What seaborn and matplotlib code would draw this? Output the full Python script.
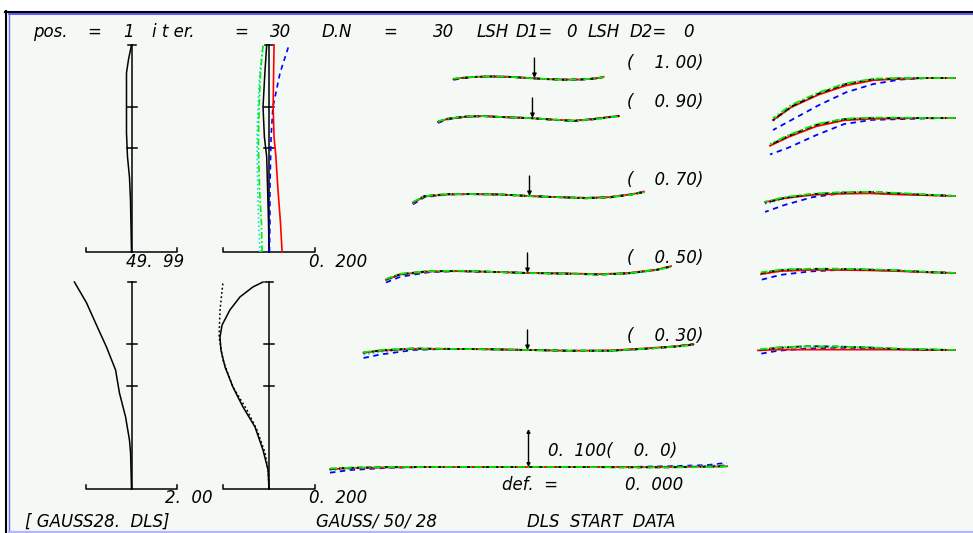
import matplotlib
matplotlib.use("Agg")
import matplotlib.pyplot as plt
from matplotlib.lines import Line2D
from matplotlib.patches import Rectangle
import seaborn as sns

W, H = 973, 533

# ---------------- data ----------------
# left column, relative height (0 = bar, 1 = top cap)
sa_h = [0.0, 0.25, 0.36, 0.46, 0.575, 0.865, 0.93, 1.0]
sa_black = [0.0, -1.1, -2.2, -4.4, -5.5, -5.5, -3.3, 0.0]  # scale 49.99

ch_h = [0.0, 0.14, 0.30, 0.46, 0.555, 0.70, 0.865, 1.0]  # scale 0.200
ch_red = [0.057, 0.050, 0.039, 0.030, 0.022, 0.018, 0.020, 0.022]
ch_blue = [0.002, 0.004, 0.004, 0.007, 0.009, 0.017, 0.048, 0.087]
ch_green = [-0.030, -0.033, -0.041, -0.045, -0.046, -0.043, -0.037, -0.026]
ch_cyan = [-0.039, -0.045, -0.049, -0.051, -0.052, -0.048, -0.040, -0.026]
ch_black = [0.0, -0.002, -0.006, -0.010, -0.020, -0.026, -0.018, -0.010]

dist_h = [0.0, 0.174, 0.237, 0.348, 0.464, 0.575, 0.686, 0.78, 0.90, 1.0]
dist = [0.0, -0.04, -0.09, -0.26, -0.53, -0.70, -1.10, -1.49, -1.98, -2.51]  # scale 2.00

fc_sag_h = [0.0, 0.092, 0.188, 0.30, 0.396, 0.493, 0.589, 0.671, 0.734, 0.792, 0.865, 0.928, 0.976, 1.0]
fc_sag = [0.0, -0.004, -0.026, -0.061, -0.113, -0.157, -0.191, -0.209, -0.213, -0.204, -0.170, -0.126, -0.070, -0.026]
fc_tan_h = [0.0, 0.092, 0.174, 0.285, 0.382, 0.493, 0.623, 0.734, 0.865, 1.0]
fc_tan = [0.0, -0.004, -0.017, -0.052, -0.096, -0.157, -0.200, -0.217, -0.213, -0.200]

# ray fans
field_labels = ["(    1. 00)", "(    0. 90)", "(    0. 70)", "(    0. 50)", "(    0. 30)"]
pupil = [-1.0, -0.9, -0.7, -0.5, -0.25, 0.0, 0.25, 0.5, 0.7, 0.9, 1.0]
tan_extent = [0.378, 0.456, 0.582, 0.718, 0.831, 1.0]
chief_x = [0.030, 0.020, 0.005, -0.005, -0.005, 0.0]

tan_red = [
    [-0.003, 0.000, 0.003, 0.004, 0.003, 0.0, -0.003, -0.004, -0.004, -0.001, 0.003],
    [-0.010, -0.003, 0.003, 0.005, 0.002, 0.0, -0.004, -0.007, -0.003, 0.003, 0.005],
    [-0.018, -0.001, 0.004, 0.005, 0.004, 0.0, -0.003, -0.005, -0.003, 0.005, 0.011],
    [-0.018, -0.004, 0.004, 0.005, 0.003, 0.0, -0.001, -0.003, 0.000, 0.009, 0.018],
    [-0.007, -0.002, 0.003, 0.003, 0.002, 0.0, -0.002, -0.001, 0.004, 0.010, 0.015],
    [-0.006, -0.003, -0.001, 0.000, 0.000, 0.0, 0.000, 0.000, 0.000, 0.001, 0.002],
]
tan_green = [
    [-0.002, 0.001, 0.003, 0.004, 0.003, 0.0, -0.003, -0.005, -0.004, -0.001, 0.002],
    [-0.009, -0.002, 0.004, 0.005, 0.002, 0.0, -0.004, -0.007, -0.004, 0.002, 0.004],
    [-0.016, 0.000, 0.005, 0.005, 0.004, 0.0, -0.003, -0.006, -0.004, 0.004, 0.010],
    [-0.016, -0.002, 0.005, 0.006, 0.003, 0.0, -0.002, -0.004, -0.001, 0.008, 0.016],
    [-0.006, 0.000, 0.004, 0.003, 0.002, 0.0, -0.002, -0.002, 0.003, 0.009, 0.013],
    [-0.004, -0.002, 0.000, 0.000, 0.000, 0.0, 0.000, -0.001, -0.001, 0.000, 0.001],
]
tan_black = [
    [-0.003, 0.000, 0.003, 0.004, 0.003, 0.0, -0.003, -0.005, -0.004, -0.001, 0.002],
    [-0.010, -0.002, 0.004, 0.005, 0.002, 0.0, -0.004, -0.008, -0.004, 0.002, 0.005],
    [-0.017, 0.000, 0.005, 0.005, 0.004, 0.0, -0.003, -0.006, -0.004, 0.004, 0.010],
    [-0.017, -0.003, 0.005, 0.005, 0.003, 0.0, -0.002, -0.004, -0.001, 0.008, 0.017],
    [-0.007, -0.001, 0.004, 0.003, 0.002, 0.0, -0.002, -0.002, 0.003, 0.009, 0.014],
    [-0.005, -0.002, 0.000, 0.000, 0.000, 0.0, 0.000, -0.001, -0.001, 0.001, 0.002],
]
tan_cyan = [
    [-0.004, 0.000, 0.003, 0.004, 0.003, 0.0, -0.003, -0.004, -0.004, -0.001, 0.003],
    [-0.011, -0.003, 0.003, 0.005, 0.002, 0.0, -0.004, -0.007, -0.003, 0.003, 0.005],
    [-0.019, -0.002, 0.004, 0.005, 0.004, 0.0, -0.003, -0.005, -0.003, 0.005, 0.011],
    [-0.020, -0.006, 0.003, 0.005, 0.003, 0.0, -0.001, -0.004, -0.001, 0.008, 0.017],
    [-0.012, -0.005, 0.002, 0.003, 0.002, 0.0, -0.002, -0.002, 0.003, 0.009, 0.015],
    [-0.009, -0.004, -0.001, 0.000, 0.000, 0.0, 0.000, 0.000, 0.001, 0.003, 0.007],
]
tan_blue = [
    [-0.005, -0.001, 0.003, 0.004, 0.003, 0.0, -0.003, -0.004, -0.004, -0.001, 0.003],
    [-0.013, -0.004, 0.003, 0.005, 0.002, 0.0, -0.004, -0.007, -0.003, 0.003, 0.006],
    [-0.022, -0.003, 0.004, 0.005, 0.004, 0.0, -0.003, -0.005, -0.003, 0.005, 0.012],
    [-0.025, -0.010, 0.002, 0.005, 0.003, 0.0, -0.001, -0.004, -0.001, 0.008, 0.018],
    [-0.021, -0.012, 0.000, 0.003, 0.002, 0.0, -0.002, -0.002, 0.003, 0.010, 0.016],
    [-0.015, -0.008, -0.002, 0.000, 0.000, 0.0, 0.000, 0.000, 0.002, 0.005, 0.011],
]

sag_pupil = [0.0, 0.15, 0.3, 0.45, 0.6, 0.75, 0.9, 1.0]
sag_extent = [0.924, 0.939, 0.964, 0.985, 1.0]
sag_black = [
    [0.0, 0.000, -0.001, -0.003, -0.016, -0.041, -0.075, -0.111],
    [0.0, 0.000, 0.000, 0.000, -0.003, -0.018, -0.047, -0.071],
    [0.0, 0.003, 0.007, 0.011, 0.009, 0.005, -0.005, -0.018],
    [0.0, 0.003, 0.007, 0.009, 0.011, 0.011, 0.008, 0.000],
    [0.0, 0.001, 0.003, 0.007, 0.009, 0.010, 0.006, 0.000],
]
sag_green = [
    [0.0, 0.000, 0.000, -0.002, -0.014, -0.038, -0.071, -0.106],
    [0.0, 0.000, 0.001, 0.001, -0.002, -0.016, -0.045, -0.068],
    [0.0, 0.004, 0.008, 0.011, 0.010, 0.006, -0.003, -0.015],
    [0.0, 0.003, 0.007, 0.010, 0.011, 0.011, 0.009, 0.002],
    [0.0, 0.002, 0.004, 0.007, 0.009, 0.010, 0.007, 0.001],
]
sag_red = [
    [0.0, 0.000, -0.002, -0.006, -0.020, -0.044, -0.077, -0.111],
    [0.0, 0.000, -0.001, -0.002, -0.006, -0.022, -0.050, -0.073],
    [0.0, 0.002, 0.004, 0.007, 0.006, 0.003, -0.006, -0.016],
    [0.0, 0.002, 0.005, 0.007, 0.008, 0.008, 0.005, -0.003],
    [0.0, 0.000, 0.001, 0.001, 0.001, 0.001, 0.001, -0.001],
]
sag_cyan = [
    [0.0, 0.000, -0.001, -0.004, -0.017, -0.043, -0.078, -0.114],
    [0.0, 0.000, 0.000, -0.001, -0.005, -0.020, -0.049, -0.074],
    [0.0, 0.003, 0.006, 0.009, 0.008, 0.004, -0.007, -0.021],
    [0.0, 0.002, 0.006, 0.008, 0.010, 0.009, 0.005, -0.004],
    [0.0, 0.001, 0.003, 0.006, 0.008, 0.008, 0.004, -0.002],
]
sag_blue = [
    [0.0, 0.000, -0.004, -0.016, -0.038, -0.072, -0.111, -0.137],
    [0.0, -0.001, -0.003, -0.005, -0.016, -0.045, -0.078, -0.096],
    [0.0, 0.003, 0.005, 0.008, 0.007, -0.003, -0.024, -0.042],
    [0.0, 0.002, 0.006, 0.008, 0.008, 0.004, -0.005, -0.018],
    [0.0, 0.001, 0.002, 0.005, 0.006, 0.004, -0.002, -0.011],
]

# ---------------- styles ----------------
BG = "#f5f9f5"
STY = {
    "blue": dict(color="#0000ff", linestyle=(0, (3, 2.5))),
    "cyan": dict(color="#00e5e5", linestyle=(0, (1, 1.5))),
    "red": dict(color="#ff0000", linestyle="-"),
    "black": dict(color="black", linestyle=(0, (3, 2))),
    "green": dict(color="#00ee00", linestyle=(0, (4, 1.5, 1, 1.5))),
}
TXT = dict(fontsize=12, style="italic", family="DejaVu Sans", color="black")

fig = plt.figure(figsize=(W / 100, H / 100), dpi=100, facecolor="white")


def fx(x):
    return x / W


def fy(y):
    return 1 - y / H


def px_axes(x0, y0, x1, y1):
    ax = fig.add_axes([fx(x0), fy(y1), (x1 - x0) / W, (y1 - y0) / H])
    ax.set_axis_off()
    ax.patch.set_alpha(0)
    return ax


def curve(ax, x, y, key, lw=1.2, z=2):
    sns.lineplot(x=x, y=y, ax=ax, sort=False, estimator=None, lw=lw, zorder=z, **STY[key])


def ptext(x, y, s, **kw):
    fig.text(fx(x), fy(y), s, va=kw.pop("va", "center"), **TXT, **kw)


# background + frame
fig.add_artist(Rectangle((fx(7), 0), 1 - fx(7), fy(12), transform=fig.transFigure, color=BG, zorder=0))


def frame_line(xs, ys, color, lw):
    fig.add_artist(Line2D([fx(v) for v in xs], [fy(v) for v in ys], color=color, lw=lw, zorder=10))


# ---------------- left column ----------------
def scale_axis(ax, s, top, bot):
    k = s / 45.5
    hpx = bot - top
    kw = dict(color="black", lw=1.1)
    ax.plot([0, 0], [0, 1], **kw)
    ax.plot([-4 * k, 4 * k], [1, 1], **kw)
    for t in (0.5, 0.7):
        ax.plot([-5 * k, 5 * k], [t, t], **kw)
    ax.plot([-s, -s, s, s], [4 / hpx, 0, 0, 4 / hpx], **kw)
    ax.set_xlim(-s, s)
    ax.set_ylim(0, 1)


ax1 = px_axes(86, 45, 177, 252)
scale_axis(ax1, 49.99, 45, 252)
curve(ax1, sa_black, sa_h, "red", lw=1.1)
ax1.lines[-1].set_color("black")

ax2 = px_axes(223, 45, 315, 252)
scale_axis(ax2, 0.2, 45, 252)
curve(ax2, ch_cyan, ch_h, "cyan")
curve(ax2, ch_green, ch_h, "green")
curve(ax2, ch_black, ch_h, "red", lw=1.1)
ax2.lines[-1].set_color("black")
curve(ax2, ch_blue, ch_h, "blue")
curve(ax2, ch_red, ch_h, "red")

ax3 = px_axes(86, 282, 177, 489)
scale_axis(ax3, 2.0, 282, 489)
curve(ax3, dist, dist_h, "red", lw=1.1)
ax3.lines[-1].set_color("black")

ax4 = px_axes(223, 282, 315, 489)
scale_axis(ax4, 0.2, 282, 489)
curve(ax4, fc_sag, fc_sag_h, "red", lw=1.1)
ax4.lines[-1].set_color("black")
curve(ax4, fc_tan, fc_tan_h, "cyan", lw=1.1)
ax4.lines[-1].set_color("black")
ax4.lines[-1].set_linestyle((0, (1.2, 1.6)))

for ax in (ax1, ax2, ax3, ax4):
    for ln in ax.lines:
        ln.set_clip_on(False)

ptext(184, 262, "49.  99", ha="right")
ptext(367, 262, "0.  200", ha="right")
ptext(213, 498, "2.  00", ha="right")
ptext(367, 498, "0.  200", ha="right")

# ---------------- ray fans ----------------
row_y = [78, 118, 196, 273, 350, 467]
YR = 45 / 380
for i, yb in enumerate(row_y):
    ax = px_axes(330, yb - 45, 727, yb + 45)
    ax.set_xlim(-1, 1)
    ax.set_ylim(-YR, YR)
    xs = [p * tan_extent[i] for p in pupil]
    for key, arr in (("blue", tan_blue), ("cyan", tan_cyan), ("red", tan_red),
                     ("black", tan_black), ("green", tan_green)):
        curve(ax, xs, arr[i], key, lw=1.3)
    if i < 5:
        ax.annotate("", xy=(chief_x[i], 0), xytext=(chief_x[i], 20 / 380),
                    arrowprops=dict(arrowstyle="-|>", color="black", lw=1.0,
                                    mutation_scale=6, shrinkA=0, shrinkB=0))
    else:
        ax.annotate("", xy=(chief_x[i], 0), xytext=(chief_x[i], 0.1),
                    arrowprops=dict(arrowstyle="<|-|>", color="black", lw=1.0,
                                    mutation_scale=5, shrinkA=0, shrinkB=0))
    for ln in ax.lines:
        ln.set_clip_on(False)

for i in range(5):
    yb = row_y[i]
    ax = px_axes(758, yb - 45, 955, yb + 45)
    ax.set_xlim(1, 0)
    ax.set_ylim(-YR, YR)
    xs = [s * sag_extent[i] for s in sag_pupil]
    for key, arr in (("blue", sag_blue), ("cyan", sag_cyan), ("red", sag_red),
                     ("black", sag_black), ("green", sag_green)):
        curve(ax, xs, arr[i], key, lw=1.3)
    for ln in ax.lines:
        ln.set_clip_on(False)

label_dy = [15, 16, 16, 15, 14]
for i, lab in enumerate(field_labels):
    ptext(627, row_y[i] - label_dy[i], lab, ha="left")
ptext(548, 451, "0.  100(    0.  0)", ha="left")
ptext(502, 485, "def.  =", ha="left")
ptext(625, 485, "0.  000", ha="left")

# ---------------- header / footer ----------------
header = [(33, "pos."), (87, "="), (123, "1"), (152, "i t er."), (234, "="), (270, "30"),
          (322, "D.N"), (383, "="), (433, "30"), (477, "LSH"), (516, "D1="), (566, "0"),
          (588, "LSH"), (630, "D2="), (683, "0")]
for x, s in header:
    ptext(x, 32, s, ha="left")

ptext(25, 527, "[ GAUSS28.  DLS]", ha="left", va="baseline")
ptext(316, 527, "GAUSS/ 50/ 28", ha="left", va="baseline")
ptext(527, 527, "DLS  START  DATA", ha="left", va="baseline")

frame_line([5, W], [11.5, 11.5], "black", 1.5)
frame_line([6, 6], [11, H], "black", 1.5)
frame_line([8.5, W], [14, 14], "#4b4bff", 1.3)
frame_line([9, 9], [13.5, H], "#6a6aff", 1.0)
frame_line([8.5, W], [532, 532], "#b4b4ff", 1.6)

fig.savefig("out.png", dpi=100, facecolor="white")
